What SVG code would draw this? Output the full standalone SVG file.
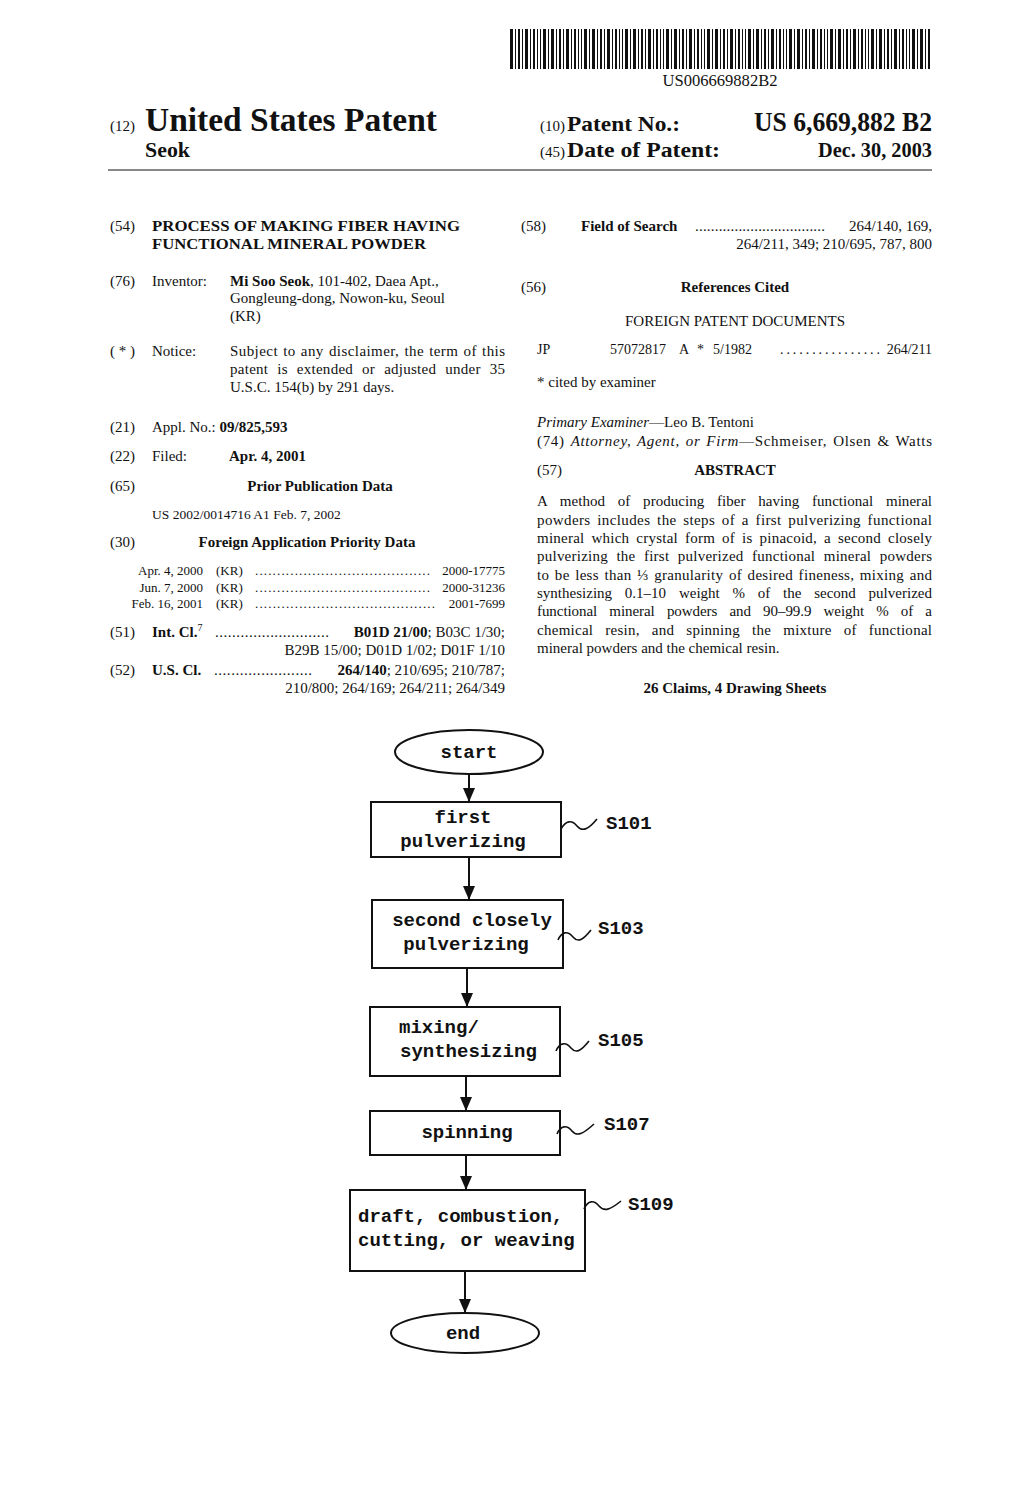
<svg xmlns="http://www.w3.org/2000/svg" width="1020" height="1498" viewBox="0 0 1020 1498">
<style>
.s{font-family:"Liberation Serif","Times New Roman",serif;fill:#111;font-size:15px}
.sm{font-size:13px}
.b{font-weight:bold}
.i{font-style:italic}
.m{font-family:"Liberation Mono","Courier New",monospace;font-weight:bold;font-size:19px;fill:#111}
.box{fill:#fff;stroke:#111;stroke-width:2}
.cn{stroke:#111;stroke-width:2;fill:none}
.sq{stroke:#111;stroke-width:1.6;fill:none}
</style>
<defs>
<pattern id="bc" x="510" y="0" width="41" height="100" patternUnits="userSpaceOnUse">
<rect x="0" y="0" width="3" height="100" fill="#111"/>
<rect x="5" y="0" width="1" height="100" fill="#111"/>
<rect x="8" y="0" width="2" height="100" fill="#111"/>
<rect x="12" y="0" width="1" height="100" fill="#111"/>
<rect x="15" y="0" width="3" height="100" fill="#111"/>
<rect x="20" y="0" width="1" height="100" fill="#111"/>
<rect x="23" y="0" width="2" height="100" fill="#111"/>
<rect x="27" y="0" width="1" height="100" fill="#111"/>
<rect x="30" y="0" width="1" height="100" fill="#111"/>
<rect x="33" y="0" width="3" height="100" fill="#111"/>
<rect x="38" y="0" width="1" height="100" fill="#111"/>
</pattern>
<marker id="ah" viewBox="0 0 14 12" markerWidth="14" markerHeight="12" refX="14" refY="6" orient="auto" markerUnits="userSpaceOnUse">
<path d="M0,0 L14,6 L0,12 z" fill="#111"/>
</marker>
</defs>
<rect width="1020" height="1498" fill="#fff"/>

<g id="header">
<rect x="510" y="29" width="422" height="40" fill="url(#bc)"/>
<text x="720" y="86" class="s" style="font-size:16px" text-anchor="middle" textLength="115" lengthAdjust="spacingAndGlyphs">US006669882B2</text>
<text x="110" y="131" class="s" style="font-size:15px">(12)</text>
<text x="145" y="131" class="s b" style="font-size:34px" textLength="292" lengthAdjust="spacingAndGlyphs">United States Patent</text>
<text x="145" y="157" class="s b" style="font-size:21px" textLength="45" lengthAdjust="spacingAndGlyphs">Seok</text>
<text x="540" y="131" class="s" style="font-size:15px">(10)</text>
<text x="567" y="131" class="s b" style="font-size:22px" textLength="113" lengthAdjust="spacingAndGlyphs">Patent No.:</text>
<text x="932" y="131" class="s b" style="font-size:27px" text-anchor="end" textLength="178" lengthAdjust="spacingAndGlyphs">US 6,669,882 B2</text>
<text x="540" y="157" class="s" style="font-size:15px">(45)</text>
<text x="567" y="157" class="s b" style="font-size:22px" textLength="153" lengthAdjust="spacingAndGlyphs">Date of Patent:</text>
<text x="932" y="157" class="s b" style="font-size:22px" text-anchor="end" textLength="114" lengthAdjust="spacingAndGlyphs">Dec. 30, 2003</text>
<line x1="108" y1="170" x2="932" y2="170" stroke="#888" stroke-width="2"/>
</g>

<g id="left-column">
<text x="110" y="231" class="s">(54)</text>
<text x="152" y="231" class="s b" textLength="308" lengthAdjust="spacingAndGlyphs">PROCESS OF MAKING FIBER HAVING</text>
<text x="152" y="249" class="s b" textLength="274" lengthAdjust="spacingAndGlyphs">FUNCTIONAL MINERAL POWDER</text>

<text x="110" y="286" class="s">(76)</text>
<text x="152" y="286" class="s">Inventor:</text>
<text x="230" y="286" class="s"><tspan class="b">Mi Soo Seok</tspan>, 101-402, Daea Apt.,</text>
<text x="230" y="303" class="s">Gongleung-dong, Nowon-ku, Seoul</text>
<text x="230" y="321" class="s">(KR)</text>

<text x="110" y="356" class="s">( * )</text>
<text x="152" y="356" class="s">Notice:</text>
<text x="230" y="356" class="s" word-spacing="1" textLength="275" lengthAdjust="spacing">Subject to any disclaimer, the term of this</text>
<text x="230" y="374" class="s" word-spacing="5" textLength="275" lengthAdjust="spacing">patent is extended or adjusted under 35</text>
<text x="230" y="392" class="s">U.S.C. 154(b) by 291 days.</text>

<text x="110" y="432" class="s">(21)</text>
<text x="152" y="432" class="s">Appl. No.: <tspan class="b">09/825,593</tspan></text>

<text x="110" y="461" class="s">(22)</text>
<text x="152" y="461" class="s">Filed:</text>
<text x="229" y="461" class="s b">Apr. 4, 2001</text>

<text x="110" y="491" class="s">(65)</text>
<text x="320" y="491" class="s b" text-anchor="middle">Prior Publication Data</text>
<text x="152" y="519" class="s" style="font-size:13.5px">US 2002/0014716 A1 Feb. 7, 2002</text>

<text x="110" y="547" class="s">(30)</text>
<text x="307" y="547" class="s b" text-anchor="middle">Foreign Application Priority Data</text>

<text x="203" y="575" class="s sm" text-anchor="end">Apr. 4, 2000</text>
<text x="216" y="575" class="s sm">(KR)</text>
<text x="255" y="575" class="s sm" textLength="175" lengthAdjust="spacing">........................................</text>
<text x="505" y="575" class="s sm" text-anchor="end">2000-17775</text>
<text x="203" y="592" class="s sm" text-anchor="end">Jun. 7, 2000</text>
<text x="216" y="592" class="s sm">(KR)</text>
<text x="255" y="592" class="s sm" textLength="175" lengthAdjust="spacing">........................................</text>
<text x="505" y="592" class="s sm" text-anchor="end">2000-31236</text>
<text x="203" y="608" class="s sm" text-anchor="end">Feb. 16, 2001</text>
<text x="216" y="608" class="s sm">(KR)</text>
<text x="255" y="608" class="s sm" textLength="180" lengthAdjust="spacing">.........................................</text>
<text x="505" y="608" class="s sm" text-anchor="end">2001-7699</text>

<text x="110" y="637" class="s">(51)</text>
<text x="152" y="637" class="s b">Int. Cl.<tspan font-size="10" dy="-6" font-weight="normal">7</tspan></text>
<text x="215" y="637" class="s" textLength="114" lengthAdjust="spacing">...........................</text>
<text x="505" y="637" class="s" text-anchor="end"><tspan class="b">B01D 21/00</tspan>; B03C 1/30;</text>
<text x="505" y="655" class="s" text-anchor="end">B29B 15/00; D01D 1/02; D01F 1/10</text>

<text x="110" y="675" class="s">(52)</text>
<text x="152" y="675" class="s b">U.S. Cl.</text>
<text x="214" y="675" class="s" textLength="98" lengthAdjust="spacing">.......................</text>
<text x="505" y="675" class="s" text-anchor="end"><tspan class="b">264/140</tspan>; 210/695; 210/787;</text>
<text x="505" y="693" class="s" text-anchor="end">210/800; 264/169; 264/211; 264/349</text>
</g>

<g id="right-column">
<text x="521" y="231" class="s">(58)</text>
<text x="581" y="231" class="s b">Field of Search</text>
<text x="695" y="231" class="s" textLength="130" lengthAdjust="spacing">.................................</text>
<text x="932" y="231" class="s" text-anchor="end">264/140, 169,</text>
<text x="932" y="249" class="s" text-anchor="end">264/211, 349; 210/695, 787, 800</text>

<text x="521" y="292" class="s">(56)</text>
<text x="735" y="292" class="s b" text-anchor="middle">References Cited</text>
<text x="735" y="326" class="s" text-anchor="middle">FOREIGN PATENT DOCUMENTS</text>
<text x="537" y="354" class="s" style="font-size:14px">JP</text>
<text x="610" y="354" class="s" style="font-size:14px">57072817</text>
<text x="679" y="354" class="s" style="font-size:14px">A</text>
<text x="697" y="354" class="s" style="font-size:14px">*</text>
<text x="713" y="354" class="s" style="font-size:14px">5/1982</text>
<text x="780" y="354" class="s" style="font-size:14px" textLength="100" lengthAdjust="spacing">................</text>
<text x="932" y="354" class="s" style="font-size:14px" text-anchor="end">264/211</text>
<text x="537" y="387" class="s">* cited by examiner</text>

<text x="537" y="427" class="s"><tspan class="i">Primary Examiner</tspan>—Leo B. Tentoni</text>
<text x="537" y="446" class="s" word-spacing="1.5" textLength="395" lengthAdjust="spacing">(74) <tspan class="i">Attorney, Agent, or Firm</tspan>—Schmeiser, Olsen &amp; Watts</text>

<text x="537" y="475" class="s">(57)</text>
<text x="735" y="475" class="s b" text-anchor="middle">ABSTRACT</text>

<text x="537" y="506" class="s" word-spacing="9" textLength="395" lengthAdjust="spacing">A method of producing fiber having functional mineral</text>
<text x="537" y="525" class="s" word-spacing="2.5" textLength="395" lengthAdjust="spacing">powders includes the steps of a first pulverizing functional</text>
<text x="537" y="543" class="s" word-spacing="3" textLength="395" lengthAdjust="spacing">mineral which crystal form of is pinacoid, a second closely</text>
<text x="537" y="561" class="s" word-spacing="4.5" textLength="395" lengthAdjust="spacing">pulverizing the first pulverized functional mineral powders</text>
<text x="537" y="580" class="s" word-spacing="1.5" textLength="395" lengthAdjust="spacing">to be less than ⅓ granularity of desired fineness, mixing and</text>
<text x="537" y="598" class="s" word-spacing="9" textLength="395" lengthAdjust="spacing">synthesizing 0.1–10 weight % of the second pulverized</text>
<text x="537" y="616" class="s" word-spacing="8.5" textLength="395" lengthAdjust="spacing">functional mineral powders and 90–99.9 weight % of a</text>
<text x="537" y="635" class="s" word-spacing="8" textLength="395" lengthAdjust="spacing">chemical resin, and spinning the mixture of functional</text>
<text x="537" y="653" class="s">mineral powders and the chemical resin.</text>

<text x="735" y="693" class="s b" text-anchor="middle">26 Claims, 4 Drawing Sheets</text>
</g>

<g id="connectors">
<line class="cn" x1="469" y1="775" x2="469" y2="802" marker-end="url(#ah)"/>
<line class="cn" x1="469" y1="857" x2="469" y2="900" marker-end="url(#ah)"/>
<line class="cn" x1="467" y1="968" x2="467" y2="1007" marker-end="url(#ah)"/>
<line class="cn" x1="466" y1="1076" x2="466" y2="1111" marker-end="url(#ah)"/>
<line class="cn" x1="466" y1="1155" x2="466" y2="1190" marker-end="url(#ah)"/>
<line class="cn" x1="465" y1="1271" x2="465" y2="1313" marker-end="url(#ah)"/>
</g>

<g id="start">
<ellipse class="box" cx="469" cy="752" rx="74" ry="22"/>
<text class="m" x="469" y="758" text-anchor="middle">start</text>
</g>

<g id="S101">
<rect class="box" x="371" y="802" width="190" height="55"/>
<text class="m" x="463" y="823" text-anchor="middle">first</text>
<text class="m" x="463" y="847" text-anchor="middle">pulverizing</text>
<path class="sq" d="M561,829 C566,820 572,820 577,826 S588,830 597,819"/>
<text class="m" x="606" y="829">S101</text>
</g>

<g id="S103">
<rect class="box" x="372" y="900" width="191" height="68"/>
<text class="m" x="472" y="926" text-anchor="middle">second closely</text>
<text class="m" x="466" y="950" text-anchor="middle">pulverizing</text>
<path class="sq" d="M558,940 C562,931 568,931 573,937 S583,940 591,930"/>
<text class="m" x="598" y="934">S103</text>
</g>

<g id="S105">
<rect class="box" x="370" y="1007" width="190" height="69"/>
<text class="m" x="399" y="1033">mixing/</text>
<text class="m" x="400" y="1057">synthesizing</text>
<path class="sq" d="M556,1051 C560,1042 566,1042 571,1048 S581,1051 589,1041"/>
<text class="m" x="598" y="1046">S105</text>
</g>

<g id="S107">
<rect class="box" x="370" y="1111" width="190" height="44"/>
<text class="m" x="467" y="1138" text-anchor="middle">spinning</text>
<path class="sq" d="M557,1134 C561,1125 567,1125 572,1131 S583,1134 594,1124"/>
<text class="m" x="604" y="1130">S107</text>
</g>

<g id="S109">
<rect class="box" x="350" y="1190" width="235" height="81"/>
<text class="m" x="358" y="1222">draft, combustion,</text>
<text class="m" x="358" y="1246">cutting, or weaving</text>
<path class="sq" d="M584,1209 C588,1200 594,1200 599,1206 S610,1210 621,1201"/>
<text class="m" x="628" y="1210">S109</text>
</g>

<g id="end">
<ellipse class="box" cx="465" cy="1333" rx="74" ry="20"/>
<text class="m" x="463" y="1339" text-anchor="middle">end</text>
</g>
</svg>
